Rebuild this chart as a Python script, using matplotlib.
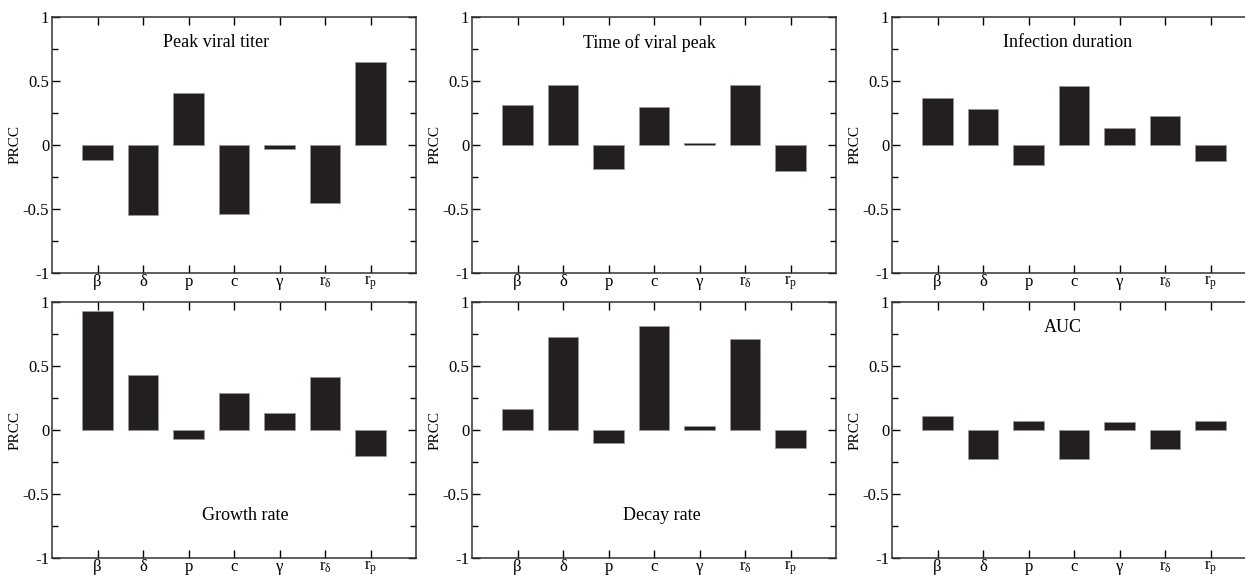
import matplotlib.pyplot as plt
from matplotlib.ticker import MultipleLocator

plt.rcParams['font.family'] = ['Liberation Serif', 'DejaVu Serif']
plt.rcParams['mathtext.fontset'] = 'custom'
plt.rcParams['mathtext.rm'] = 'Liberation Serif'

params = ['β', 'δ', 'p', 'c', 'γ', r'$\mathregular{r_δ}$', r'$\mathregular{r_p}$']

titles = ['Peak viral titer', 'Time of viral peak', 'Infection duration',
          'Growth rate', 'Decay rate', 'AUC']

peak_titer = [-0.12, -0.55, 0.41, -0.54, -0.03, -0.45, 0.65]
time_peak = [0.31, 0.47, -0.185, 0.295, 0.013, 0.47, -0.20]
duration = [0.37, 0.28, -0.16, 0.46, 0.135, 0.225, -0.125]
growth = [0.93, 0.43, -0.07, 0.29, 0.133, 0.415, -0.20]
decay = [0.167, 0.73, -0.105, 0.81, 0.03, 0.71, -0.137]
auc = [0.11, -0.225, 0.073, -0.225, 0.06, -0.15, 0.07]

series = [peak_titer, time_peak, duration, growth, decay, auc]

# where each panel's caption sits (x in bar units, y in PRCC units)
label_pos = [(3.6, 0.8), (3.9, 0.8), (3.85, 0.8), (4.25, -0.67), (4.17, -0.67), (3.75, 0.8)]

W, H = 1245, 575
fig = plt.figure(figsize=(W / 100, H / 100), dpi=100)

lefts = [52, 472, 892]
tops = [17, 302]
aw, ah = 364, 256

for k, vals in enumerate(series):
    row, col = divmod(k, 3)
    ax = fig.add_axes([lefts[col] / W, 1 - (tops[row] + ah) / H, aw / W, ah / H])
    x = list(range(1, len(vals) + 1))
    ax.bar(x, vals, width=0.66, color='#231f20', edgecolor='#999999', linewidth=0.5)
    ax.set_xlim(0, 8)
    ax.set_ylim(-1, 1)
    ax.set_xticks(x)
    ax.set_xticklabels(params, fontsize=12)
    ax.set_yticks([-1, -0.5, 0, 0.5, 1])
    ax.set_yticklabels(['-1', '-0.5', '0', '0.5', '1'], fontsize=12)
    ax.yaxis.set_minor_locator(MultipleLocator(0.25))
    ax.tick_params(which='both', direction='in', top=True, right=True, width=1)
    ax.tick_params(which='major', length=6)
    ax.tick_params(axis='x', pad=1)
    ax.tick_params(axis='y', pad=2)
    ax.tick_params(which='minor', length=4)
    for s in ax.spines.values():
        s.set_linewidth(1.1)
        s.set_color('#333333')
    ax.set_ylabel('PRCC', fontsize=11)
    ax.yaxis.set_label_coords(-0.085, 0.5)
    tx, ty = label_pos[k]
    ax.text(tx, ty, titles[k], fontsize=13, ha='center', va='center')

fig.savefig('out.png', dpi=100)
